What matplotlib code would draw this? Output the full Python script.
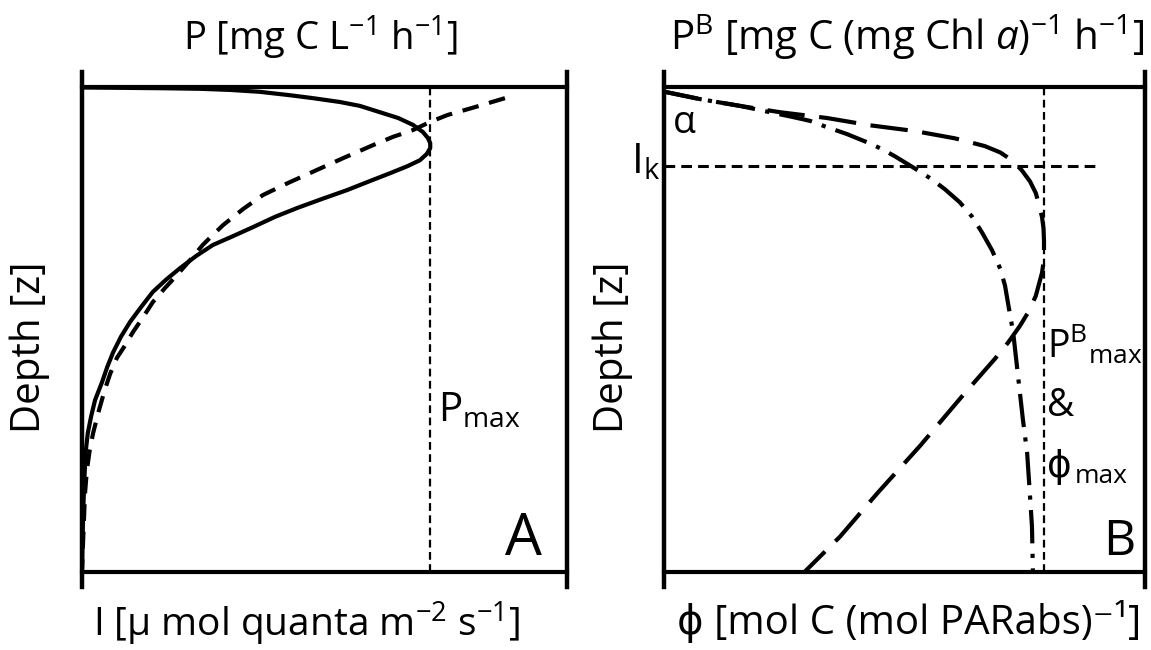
import matplotlib
matplotlib.use('Agg')
import matplotlib.pyplot as plt

plt.rcParams['font.family'] = ['Open Sans', 'DejaVu Sans']
plt.rcParams['mathtext.fontset'] = 'custom'
plt.rcParams['mathtext.rm'] = 'Open Sans'
plt.rcParams['mathtext.it'] = 'Open Sans:italic'
plt.rcParams['mathtext.default'] = 'regular'

# Panel A: production P (solid) and irradiance I (dashed) against depth
# x is in relative units (0-100), depth is relative (0 = surface, 100 = bottom)
p_a = [0, 7.8, 16.1, 24.3, 30.5, 36.7, 42.9, 47.6, 53.2, 57.3, 61.4, 65.2, 68.2,
       70.3, 71.3, 71.8, 71.8, 71.1, 69.7, 67.2, 63.5, 59.4, 54.6, 49.5, 44.3,
       39.8, 35.3, 31.1, 27.0, 23.5, 20.2, 17.3, 14.6, 12.2, 9.9, 8.0, 6.4, 5.2,
       4.1, 2.7, 1.9, 1.2, 0.8, 0.6, 0.4, 0.2, 0.1, 0]
depth_p_a = [0.1, 0.17, 0.25, 0.37, 0.6, 1.0, 1.7, 2.3, 3.1, 3.9, 5.2, 6.4, 7.8,
             9.3, 10.5, 11.6, 12.6, 13.8, 15.1, 16.3, 17.8, 19.4, 21.3, 23.1, 25.0,
             26.8, 28.9, 30.8, 32.6, 34.9, 37.4, 39.8, 42.3, 45.4, 48.5, 51.6, 54.8,
             57.8, 61.0, 64.6, 67.9, 71.4, 74.9, 78.4, 83.2, 89.4, 94.5, 99.7]

i_a = [87.2, 81.2, 75.3, 71.8, 68.2, 64.1, 60.0, 53.8, 47.6, 42.5, 37.3, 33.2,
       29.1, 27.0, 24.9, 22.3, 19.6, 17.1, 14.6, 12.6, 10.5, 8.9, 7.2, 5.8, 4.7,
       3.5, 2.3, 1.6, 1.0, 0.6, 0.4, 0.2, 0]
depth_i_a = [2.3, 4.1, 5.8, 7.2, 8.9, 10.3, 12.0, 14.7, 17.5, 19.8, 22.3, 25.2,
             28.5, 30.5, 32.6, 35.7, 38.8, 41.5, 44.4, 47.5, 50.6, 53.3, 55.9, 59.2,
             62.5, 66.7, 71.4, 74.9, 79.1, 84.2, 89.4, 94.5, 99.7]

pmax_a = 71.8

# Panel B: chlorophyll specific production P^B (long dash) and quantum yield phi (dash-dot)
pb_b = [0.2, 7.5, 15.8, 24.1, 33.9, 42.8, 52.2, 60.5, 66.7, 69.9, 72.3, 74.4,
        76.1, 77.3, 78.0, 78.6, 78.9, 79.0, 79.0, 78.9, 78.6, 77.3, 75.9, 74.0,
        71.5, 68.8, 62.0, 53.2, 44.3, 36.6, 29.3]
depth_pb_b = [1.0, 2.5, 3.9, 5.2, 6.4, 7.9, 9.1, 10.6, 12.2, 13.5, 15.1, 17.2,
              19.5, 21.9, 24.4, 26.9, 29.2, 31.7, 34.2, 36.2, 38.3, 43.1, 46.2, 49.3,
              52.8, 56.1, 63.8, 74.1, 83.9, 92.8, 100]

phi_b = [0.2, 7.5, 15.8, 22.0, 26.8, 30.4, 33.9, 38.0, 42.2, 45.3, 48.0, 51.8,
         55.3, 58.4, 61.5, 64.0, 66.1, 68.2, 69.9, 70.9, 71.5, 72.6, 73.6, 74.6,
         75.5, 76.1, 76.5, 76.7]
depth_phi_b = [1.0, 2.5, 3.9, 5.2, 6.2, 7.0, 8.3, 9.7, 11.4, 12.8, 14.3, 16.6,
               18.8, 21.1, 23.8, 26.7, 30.0, 33.7, 37.5, 41.0, 44.5, 50.7, 59.6, 68.5,
               75.6, 84.5, 90.7, 100]

pbmax_b = 79.0
ik_depth = 16.4
ik_end = 89.6

fig = plt.figure(figsize=(11.51, 6.5), dpi=100)
ax_a = fig.add_axes([82 / 1151, 1 - 571.5 / 650, 485 / 1151, 484.5 / 650])
ax_b = fig.add_axes([664 / 1151, 1 - 571.5 / 650, 481 / 1151, 484.5 / 650])

for ax in (ax_a, ax_b):
    ax.set_xlim(0, 100)
    ax.set_ylim(100, 0)
    for s in ax.spines.values():
        s.set_visible(False)
    ax.set_xticks([])
    ax.set_yticks([])
    # frame: horizontal lines at surface and bottom, side lines sticking out a bit
    ax.axhline(0, color='black', lw=3, clip_on=False)
    ax.axhline(100, color='black', lw=3, clip_on=False)
    ax.axvline(0, ymin=-0.031, ymax=1.031, color='black', lw=3.2, clip_on=False)
    ax.axvline(100, ymin=-0.031, ymax=1.031, color='black', lw=3.2, clip_on=False)
    ax.text(-0.107, 0.463, 'Depth [z]', transform=ax.transAxes, rotation=90,
            ha='center', va='center', fontsize=29)

# ---- panel A
ax_a.plot(p_a, depth_p_a, color='black', lw=3, solid_joinstyle='round')
ax_a.plot(i_a, depth_i_a, color='black', lw=3, dashes=(4, 2.6))
ax_a.axvline(pmax_a, color='black', lw=1.6, dashes=(3.5, 2))

ax_a.text(0.491, 1.076, 'P [mg C L$^{-1}$ h$^{-1}$]', transform=ax_a.transAxes,
          ha='center', va='baseline', fontsize=27.5)
ax_a.text(0.462, -0.135, 'I [µ mol quanta m$^{-2}$ s$^{-1}$]', transform=ax_a.transAxes,
          ha='center', va='baseline', fontsize=28)
ax_a.text(pmax_a + 1.6, 69.1, 'P$_{max}$', ha='left', va='baseline', fontsize=29)
ax_a.text(87.2, 96.6, 'A', ha='left', va='baseline', fontsize=42)

# ---- panel B
ax_b.plot(pb_b, depth_pb_b, color='black', lw=3, dashes=(9, 3.5))
ax_b.plot(phi_b, depth_phi_b, color='black', lw=3, dashes=(8, 2.5, 1, 2.5))
ax_b.axvline(pbmax_b, color='black', lw=1.6, dashes=(3.5, 2))
ax_b.axhline(ik_depth, xmax=ik_end / 100, color='black', lw=2.2, dashes=(3.5, 2))

ax_b.text(0.505, 1.076, 'P$^{B}$ [mg C (mg Chl $\\mathit{a}$)$^{-1}$ h$^{-1}$]',
          transform=ax_b.transAxes, ha='center', va='baseline', fontsize=29)
ax_b.text(0.509, -0.129, 'ϕ [mol C (mol PARabs)⁻¹]', transform=ax_b.transAxes,
          ha='center', va='baseline', fontsize=29)
ax_b.text(1.9, 9.5, 'α', ha='left', va='baseline', fontsize=27)
ax_b.text(-6.8, 17.8, 'I$_{k}$', ha='left', va='baseline', fontsize=30, clip_on=False)
ax_b.text(pbmax_b + 0.6, 55.9, 'P$^{B}{}_{max}$', ha='left', va='baseline', fontsize=27)
ax_b.text(pbmax_b + 0.6, 67.9, '&', ha='left', va='baseline', fontsize=27)
ax_b.text(pbmax_b + 0.6, 80.5, 'ϕ', ha='left', va='baseline', fontsize=27)
ax_b.text(pbmax_b + 6.4, 81.8, 'max', ha='left', va='baseline', fontsize=19)
ax_b.text(91.3, 96.5, 'B', ha='left', va='baseline', fontsize=36)

fig.savefig('out.png', dpi=100)
